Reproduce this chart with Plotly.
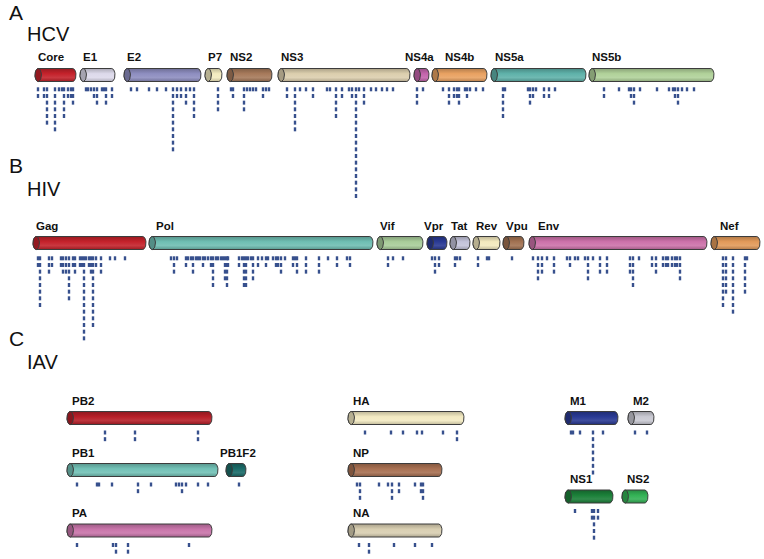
import numpy as np
import plotly.graph_objects as go

# ---------------- DATA ----------------
# HCV proteins (genome coordinate along the drawing axis)
hcv_proteins = ["Core", "E1", "E2", "P7", "NS2", "NS3", "NS4a", "NS4b", "NS5a", "NS5b"]
hcv_start = [35, 80, 124, 205, 227, 278, 414, 432, 491, 589]
hcv_end = [76, 115, 201, 222, 272, 410, 429, 487, 586, 714]
hcv_mark_pos = [38, 44, 47, 55, 59, 62, 64, 68, 71, 73,
                86, 88, 91, 94, 97, 102, 104, 106, 112,
                131, 137, 149, 157, 166, 173, 177, 181, 186, 190, 194,
                218,
                231, 233, 244, 247, 250, 253, 256, 263, 266, 269,
                287, 295, 300, 306, 313, 327, 330, 336, 342, 349, 352, 356, 359, 364, 371, 376, 382, 387, 393,
                417, 423,
                443, 449, 454, 457, 459, 465, 467, 470, 476, 483,
                503, 505, 528, 530, 533, 536, 544, 549, 555,
                604, 619, 629, 631, 634, 640, 657, 669, 673, 675, 678, 682, 687, 694]
hcv_mark_depth = [2, 2, 6, 7, 1, 1, 5, 2, 2, 3,
                  1, 1, 1, 2, 3, 1, 1, 3, 2,
                  1, 1, 1, 1, 1, 10, 2, 2, 3, 1, 5,
                  4,
                  1, 2, 4, 1, 1, 1, 1, 2, 1, 1,
                  2, 7, 1, 1, 2, 1, 1, 5, 2, 1, 2, 17, 1, 3, 1, 1, 1, 1, 1,
                  3, 1,
                  1, 3, 2, 2, 3, 1, 2, 1, 1, 1,
                  5, 1, 1, 3, 2, 1, 2, 2, 1,
                  2, 1, 1, 2, 3, 1, 1, 1, 1, 2, 3, 1, 1, 1]

# HIV proteins
hiv_proteins = ["Gag", "Pol", "Vif", "Vpr", "Tat", "Rev", "Vpu", "Env", "Nef"]
hiv_start = [33, 149, 377, 427, 450, 473, 503, 529, 711]
hiv_end = [146, 373, 423, 447, 470, 500, 524, 707, 760]
hiv_mark_pos = [38, 40, 49, 52, 61, 63, 66, 69, 73, 75, 80, 82, 84, 86, 89, 91, 93, 96, 101, 110, 115, 125,
                171, 174, 177, 186, 188, 191, 193, 196, 198, 200, 203, 205, 208, 211, 213, 216, 218, 221,
                223, 225, 227, 228, 239, 242, 244, 246, 248, 251, 253, 258, 262, 266, 268, 273, 276, 278,
                281, 285, 293, 295, 297, 306, 319, 328, 337, 347, 350,
                388, 393, 403,
                432, 435, 439,
                455, 457, 460,
                478, 487, 489,
                512,
                533, 538, 542, 547, 554, 567, 570, 575, 578, 585, 588, 593, 600, 607, 630, 633, 639,
                652, 656, 663, 666, 668, 672, 675, 677, 680,
                723, 726, 733, 745, 747]
hiv_mark_depth = [2, 8, 3, 2, 2, 3, 3, 7, 2, 3, 2, 2, 13, 1, 2, 3, 11, 2, 3, 1, 1, 1,
                  1, 3, 1, 2, 1, 1, 3, 1, 1, 1, 2, 1, 1, 2, 5, 1, 1, 1,
                  1, 4, 5, 2, 2, 1, 5, 5, 1, 1, 4, 2, 1, 2, 1, 1, 2, 2,
                  3, 1, 2, 1, 3, 3, 3, 1, 2, 1, 2,
                  2, 1, 1,
                  1, 3, 2,
                  2, 1, 1,
                  2, 1, 1,
                  1,
                  1, 4, 3, 1, 3, 1, 2, 1, 1, 1, 4, 1, 3, 3, 3, 5, 1,
                  2, 3, 2, 2, 2, 2, 2, 2, 4,
                  8, 6, 9, 6, 1]

# IAV proteins
iav_proteins = ["PB2", "PB1", "PB1F2", "PA", "HA", "NP", "NA", "M1", "M2", "NS1", "NS2"]
iav_start = [67, 67, 226, 67, 348, 348, 348, 565, 628, 565, 622]
iav_end = [212, 218, 246, 212, 464, 442, 442, 618, 654, 613, 648]
iav_mark_pos = {
    "PB2": [105, 135, 198],
    "PB1": [77, 97, 99, 112, 138, 151, 176, 179, 182, 186, 198, 208],
    "PB1F2": [239],
    "PA": [77, 113, 116, 128, 189],
    "HA": [365, 391, 403, 417, 422, 443, 457],
    "NP": [357, 360, 379, 388, 392, 399, 415, 421, 423],
    "NA": [359, 369, 394, 415, 432],
    "M1": [571, 573, 580, 593, 603],
    "M2": [635, 647],
    "NS1": [575, 592, 594, 598],
    "NS2": [],
}
iav_mark_depth = {
    "PB2": [2, 2, 2],
    "PB1": [1, 1, 1, 1, 2, 1, 1, 1, 2, 1, 1, 1],
    "PB1F2": [1],
    "PA": [1, 1, 2, 2, 1],
    "HA": [1, 1, 1, 1, 1, 1, 2],
    "NP": [1, 3, 1, 1, 3, 2, 1, 2, 3],
    "NA": [1, 2, 1, 1, 1],
    "M1": [1, 1, 1, 7, 1],
    "M2": [1, 1],
    "NS1": [1, 2, 5, 2],
    "NS2": [],
}

# ---------------- STYLE / LAYOUT ----------------
hcv_colors = ["#c5222b", "#dddaeb", "#8e8ec0", "#f3ebc0", "#a77a5b", "#dccfae",
              "#c464ac", "#e9a262", "#5fb2aa", "#b1d29a"]
hiv_colors = ["#c5222b", "#6fbeb3", "#a9cd9a", "#2a3a94", "#c3c3da", "#f3e9be",
              "#a27252", "#cd72aa", "#e29a5a"]
iav_colors = ["#b71f28", "#72c1b6", "#1b6c69", "#c975aa", "#f3eac2", "#a87052",
              "#d9cfb2", "#2a3a94", "#c9c9d2", "#1b8039", "#33b255"]

HCV_Y, HIV_Y = 75, 243
iav_row_y = {"PB2": 418, "PB1": 470, "PB1F2": 470, "PA": 530.5, "HA": 418, "NP": 470,
             "NA": 530.5, "M1": 418, "M2": 418, "NS1": 496.5, "NS2": 496.5}
CYL_H = 13
MARK_COLOR = "#37508d"
MARK_H = 4
MARK_PITCH = 6.67
OUTLINE = "#3c3c3c"
FONT = "Liberation Sans, Arial, sans-serif"


def shade(hex_color, f):
    rgb = np.array([int(hex_color[i:i + 2], 16) for i in (1, 3, 5)], dtype=float)
    if f < 1:
        rgb = rgb * f
    else:
        rgb = rgb + (255 - rgb) * (f - 1)
    rgb = np.clip(rgb, 0, 255).astype(int)
    return "#%02x%02x%02x" % tuple(rgb)


fig = go.Figure()


def add_cylinder(x0, x1, yc, color):
    ry = CYL_H / 2
    rx = 3.2
    t = np.linspace(-np.pi / 2, np.pi / 2, 24)
    rxp = (x1 - rx) + rx * np.cos(t)
    ryp = yc + ry * np.sin(t)
    t2 = np.linspace(np.pi / 2, 3 * np.pi / 2, 24)
    lxp = (x0 + rx) + rx * np.cos(t2)
    lyp = yc + ry * np.sin(t2)
    xs = np.concatenate([rxp, lxp, rxp[:1]])
    ys = np.concatenate([ryp, lyp, ryp[:1]])
    fig.add_trace(go.Scatter(
        x=xs, y=ys, mode="lines", fill="toself",
        line=dict(color=OUTLINE, width=1),
        fillgradient=dict(type="vertical", colorscale=[
            [0, shade(color, 0.8)], [0.3, shade(color, 1.1)],
            [0.6, color], [1, shade(color, 0.78)]]),
        hoverinfo="skip", showlegend=False))
    t3 = np.linspace(0, 2 * np.pi, 40)
    fig.add_trace(go.Scatter(
        x=(x0 + rx) + rx * np.cos(t3), y=yc + ry * np.sin(t3),
        mode="lines", fill="toself", fillcolor=shade(color, 0.75),
        line=dict(color=OUTLINE, width=1), hoverinfo="skip", showlegend=False))


def add_label(text, x, y):
    fig.add_annotation(x=x, y=y, text="<b>%s</b>" % text, showarrow=False,
                       xanchor="left", yanchor="middle", xref="x", yref="y",
                       font=dict(family=FONT, size=11.5, color="#111111"))


mx, my = [], []


def add_marks(positions, depths, ytop):
    for p, d in zip(positions, depths):
        for k in range(d):
            y0 = ytop + k * MARK_PITCH
            mx.extend([p, p, None])
            my.extend([y0, y0 + MARK_H, None])


# HCV
hcv_label_dx = {"NS4a": -11, "NS4b": 11, "NS5a": 2}
for name, s, e, c in zip(hcv_proteins, hcv_start, hcv_end, hcv_colors):
    add_cylinder(s, e, HCV_Y, c)
    add_label(name, s + hcv_label_dx.get(name, 1), HCV_Y - 18)
add_marks(hcv_mark_pos, hcv_mark_depth, 87.3)

# HIV
hiv_label_dx = {"Vpr": -5, "Tat": -1, "Env": 7, "Nef": 7, "Pol": 5}
for name, s, e, c in zip(hiv_proteins, hiv_start, hiv_end, hiv_colors):
    add_cylinder(s, e, HIV_Y, c)
    add_label(name, s + hiv_label_dx.get(name, 1), HIV_Y - 17.5)
add_marks(hiv_mark_pos, hiv_mark_depth, 256.3)

# IAV
iav_label_dx = {"PB1F2": -8}
for name, s, e, c in zip(iav_proteins, iav_start, iav_end, iav_colors):
    yc = iav_row_y[name]
    add_cylinder(s, e, yc, c)
    add_label(name, s + iav_label_dx.get(name, 3), yc - 17.5)
    add_marks(iav_mark_pos[name], iav_mark_depth[name], yc + 12.5)

fig.add_trace(go.Scatter(x=mx, y=my, mode="lines",
                         line=dict(color=MARK_COLOR, width=2.4),
                         hoverinfo="skip", showlegend=False))

# Panel letters and virus names
for letter, name, ly, ny in [("A", "HCV", 12, 34), ("B", "HIV", 165, 189), ("C", "IAV", 338, 362)]:
    fig.add_annotation(x=7, y=ly, text=letter, showarrow=False, xanchor="left", yanchor="middle",
                       font=dict(family=FONT, size=21, color="#111111"))
    fig.add_annotation(x=25, y=ny, text=name, showarrow=False, xanchor="left", yanchor="middle",
                       font=dict(family=FONT, size=20, color="#111111"))

fig.update_layout(
    width=764, height=559,
    margin=dict(l=0, r=0, t=0, b=0),
    plot_bgcolor="white", paper_bgcolor="white",
    xaxis=dict(range=[0, 764], visible=False, fixedrange=True),
    yaxis=dict(range=[559, 0], visible=False, fixedrange=True),
    showlegend=False,
)
fig.write_html("out.html", config={"displayModeBar": False},
               post_script="document.body.style.margin='0';document.body.style.overflow='hidden';")
